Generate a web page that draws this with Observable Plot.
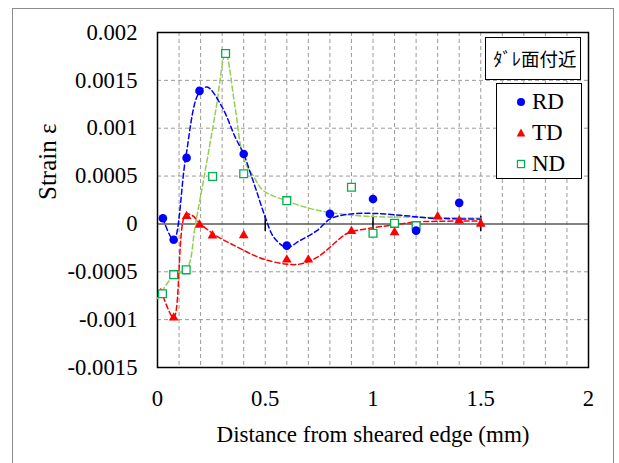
<!DOCTYPE html>
<html><head><meta charset="utf-8">
<script src="https://cdn.jsdelivr.net/npm/d3@7"></script>
<script src="https://cdn.jsdelivr.net/npm/@observablehq/plot@0.6"></script>
<style>
body{margin:0;background:#fff;}
#wrap{position:relative;width:619px;height:463px;overflow:hidden;font-family:"Liberation Serif",Tinos,"Times New Roman","DejaVu Serif",serif;}
#border{position:absolute;left:12px;top:8px;width:602px;height:470px;border:1px solid #8c8c8c;box-sizing:border-box;}
#chart{position:absolute;left:0;top:0;}
.box{position:absolute;background:#fff;border:1.2px solid #000;box-sizing:border-box;}
#title{font-family:"Noto Sans CJK JP",sans-serif;font-size:18.5px;line-height:41px;text-align:center;color:#000;padding-left:4px;}
.row{position:absolute;left:0;height:30px;line-height:30px;font-size:23px;color:#000;}
.row svg{position:absolute;left:17px;top:8px;}
.row span{position:absolute;left:35px;top:0;}
</style></head>
<body><div id="wrap"><div id="border"></div><div id="chart"></div>
<div class="box" id="title" style="left:485px;top:37px;width:96px;height:43px;"></div>
<div class="box" id="legend" style="left:496px;top:83px;width:86px;height:96px;"></div>
</div>
<script>
// measured points
const rdX = [0.025, 0.075, 0.135, 0.195, 0.4, 0.6, 0.8, 1.0, 1.2, 1.4];
const rdY = [0.00006, -0.000165, 0.00069, 0.00139, 0.00073, -0.000227, 0.000105, 0.00026, -0.00007, 0.00022];
const tdX = [0.075, 0.135, 0.195, 0.255, 0.4, 0.6, 0.7, 0.9, 1.1, 1.3, 1.4, 1.5];
const tdY = [-0.00098, 0.00008, -0.00001, -0.000123, -0.00012, -0.000374, -0.000374, -0.000077, -0.000088, 0.000076, 0.000035, 0.0];
const ndX = [0.023, 0.075, 0.133, 0.256, 0.316, 0.4, 0.6, 0.9, 1.0, 1.1, 1.2];
const ndY = [-0.00073, -0.00053, -0.00048, 0.000495, 0.00178, 0.000524, 0.000243, 0.000383, -0.000098, 0.000006, -0.000018];
// dashed trend curves
const rdFitX = [0.025, 0.075, 0.13, 0.19, 0.23, 0.3, 0.36, 0.4, 0.43, 0.46, 0.5, 0.54, 0.6, 0.66, 0.74, 0.8, 0.88, 1.0, 1.13, 1.28, 1.5];
const rdFitY = [0.00006, -0.00017, 0.00068, 0.00136, 0.00143, 0.00122, 0.00091, 0.00073, 0.00054, 0.00034, 0.00007, -0.00014, -0.000245, -0.000175, -0.00007, 0.00005, 0.0001, 0.00011, 0.00009, 0.00006, 0.00005];
const tdFitX = [0.015, 0.075, 0.13, 0.16, 0.2, 0.27, 0.36, 0.45, 0.51, 0.6, 0.66, 0.74, 0.8, 0.88, 1.0, 1.1, 1.2, 1.5];
const tdFitY = [-0.00068, -0.00098, 0.0001, 0.00009, 0.0, -0.00012, -0.00023, -0.00033, -0.00038, -0.00042, -0.00042, -0.00035, -0.000245, -0.0001, -0.00004, -0.00001, 0.00002, 0.00003];
const ndFitX = [0.0, 0.075, 0.136, 0.176, 0.217, 0.27, 0.316, 0.36, 0.4, 0.45, 0.49, 0.6, 0.71, 0.8, 0.97, 1.2, 1.5];
const ndFitY = [-0.00078, -0.00054, -0.00047, 0.0, 0.0005, 0.00118, 0.00178, 0.00122, 0.00068, 0.00048, 0.00035, 0.00024, 0.00016, 0.00012, 0.00008, 0.00007, 0.00006];
// axes
const xTicks = [0, 0.5, 1, 1.5, 2];
const xGrid = [0.1, 0.2, 0.3, 0.4, 0.5, 0.6, 0.7, 0.8, 0.9, 1.0, 1.1, 1.2, 1.3, 1.4, 1.5, 1.6, 1.7, 1.8, 1.9];
const yTicks = [-0.0015, -0.001, -0.0005, 0, 0.0005, 0.001, 0.0015, 0.002];
const yGrid = [-0.001, -0.0005, 0.0005, 0.001, 0.0015];
const seriesNames = ["RD", "TD", "ND"];
const titleText = "ﾀﾞﾚ面付近";
const xLabel = "Distance from sheared edge (mm)";
const yLabel = "Strain ε";

const zip = (xs, ys) => xs.map((x, i) => ({x, y: ys[i]}));
const rd = zip(rdX, rdY), td = zip(tdX, tdY), nd = zip(ndX, ndY);
const rdFit = zip(rdFitX, rdFitY), tdFit = zip(tdFitX, tdFitY), ndFit = zip(ndFitX, ndFitY);

const BLUE = "#0000ff", RED = "#ff0000", GREEN = "#00b050", LGREEN = "#92d050";
const gridStyle = {stroke: "#9a9a9a", strokeOpacity: 1, strokeWidth: 1, strokeDasharray: "4,3"};
const dash = "5,3";
const FONT = "'Liberation Serif', Tinos, 'Times New Roman', 'DejaVu Serif', serif";

const chart = Plot.plot({
  width: 619, height: 463,
  marginLeft: 157, marginRight: 31, marginTop: 32, marginBottom: 96,
  style: {fontFamily: FONT, fontSize: "22px", color: "#000", background: "transparent", overflow: "visible"},
  x: {domain: [0, 2]},
  y: {domain: [-0.0015, 0.002]},
  marks: [
    Plot.gridX(xGrid, gridStyle),
    Plot.gridY(yGrid, gridStyle),
    Plot.ruleY([0], {stroke: "#595959", strokeWidth: 1.6}),
    Plot.ruleX(xTicks.slice(1, -1), {y1: -0.00008, y2: 0.00008, stroke: "#000", strokeWidth: 1.5}),
    Plot.frame({stroke: "#000", strokeWidth: 1.5}),
    Plot.axisX(xTicks, {tickSize: 0, tickPadding: 22, tickFormat: d => String(d), fontSize: 22.7, fontFamily: FONT, label: null}),
    Plot.axisY(yTicks, {tickSize: 0, tickPadding: 20, tickFormat: d => String(d), fontSize: 22.7, fontFamily: FONT, label: null}),
    Plot.text([xLabel], {text: d => d, frameAnchor: "bottom", dy: 67, lineAnchor: "middle", fontSize: 23, fontFamily: FONT, fill: "#000"}),
    Plot.text([yLabel], {text: d => d, frameAnchor: "left", dx: -110, rotate: -90, lineAnchor: "middle", fontSize: 25, fontFamily: FONT, fill: "#000"}),
    Plot.line(ndFit, {x: "x", y: "y", curve: "catmull-rom", stroke: LGREEN, strokeWidth: 1.5, strokeDasharray: dash}),
    Plot.line(tdFit, {x: "x", y: "y", curve: "catmull-rom", stroke: RED, strokeWidth: 1.5, strokeDasharray: dash}),
    Plot.line(rdFit, {x: "x", y: "y", curve: "catmull-rom", stroke: BLUE, strokeWidth: 1.5, strokeDasharray: dash}),
    Plot.dot(nd, {x: "x", y: "y", symbol: "square", r: 4.4, fill: "#fff", stroke: GREEN, strokeWidth: 1.3}),
    Plot.dot(td, {x: "x", y: "y", symbol: "triangle", r: 3.6, fill: RED, stroke: "none"}),
    Plot.dot(rd, {x: "x", y: "y", symbol: "circle", r: 4.3, fill: BLUE, stroke: "none"})
  ]
});
document.getElementById("chart").appendChild(chart);
document.getElementById("title").textContent = titleText;

// legend
const legend = document.getElementById("legend");
const markerSvg = [
  `<svg width="14" height="14" viewBox="-7 -7 14 14"><circle r="4" fill="${BLUE}"/></svg>`,
  `<svg width="14" height="14" viewBox="-7 -7 14 14"><path d="M0,-4.5L4.3,3.5L-4.3,3.5Z" fill="${RED}"/></svg>`,
  `<svg width="14" height="14" viewBox="-7 -7 14 14"><rect x="-3.6" y="-3.6" width="7.2" height="7.2" fill="#fff" stroke="${GREEN}" stroke-width="1.2"/></svg>`
];
seriesNames.forEach((name, i) => {
  const row = document.createElement("div");
  row.className = "row";
  row.style.top = (3 + i * 31) + "px";
  row.style.width = "84px";
  row.innerHTML = markerSvg[i];
  const s = document.createElement("span");
  s.textContent = name;
  row.appendChild(s);
  legend.appendChild(row);
});
</script>
</body></html>
